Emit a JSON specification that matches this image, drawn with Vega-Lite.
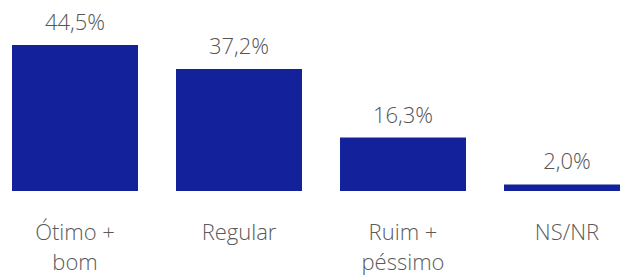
{
  "$schema": "https://vega.github.io/schema/vega-lite/v6.json",
  "width": 620,
  "height": 191,
  "autosize": {"type": "none"},
  "padding": {"left": 0, "top": 0, "right": 0, "bottom": 84},
  "background": "white",
  "config": {
    "view": {"stroke": null},
    "font": "Open Sans",
    "locale": {"number": {"decimal": ",", "thousands": ".", "grouping": [3], "currency": ["R$", ""]}}
  },
  "data": {"values": [
    {"categoria": "Ótimo + bom", "valor": 0.445},
    {"categoria": "Regular", "valor": 0.372},
    {"categoria": "Ruim + péssimo", "valor": 0.163},
    {"categoria": "NS/NR", "valor": 0.020}
  ]},
  "encoding": {
    "x": {
      "field": "categoria", "type": "nominal", "sort": null,
      "scale": {"range": [12, 630], "paddingInner": 0.2317, "paddingOuter": 0},
      "axis": {
        "title": null, "domain": false, "ticks": false, "labelAngle": 0,
        "labelFont": "Open Sans", "labelFontSize": 22, "labelFontWeight": 300, "labelColor": "#5a5a5a",
        "labelPadding": 48, "labelBaseline": "alphabetic", "labelLineHeight": 30,
        "labelExpr": "indexof(datum.value, '+') > 0 ? [slice(datum.value, 0, indexof(datum.value, '+') + 1), slice(datum.value, indexof(datum.value, '+') + 2)] : datum.value"
      }
    },
    "y": {"field": "valor", "type": "quantitative", "scale": {"domain": [0, 0.582]}, "axis": null}
  },
  "layer": [
    {"mark": {"type": "bar", "color": "#13229A"}},
    {"mark": {"type": "text", "dy": -15, "baseline": "alphabetic", "font": "Open Sans", "fontSize": 22, "fontWeight": 300, "color": "#555555"},
     "encoding": {"text": {"field": "valor", "type": "quantitative", "format": ".1%"}}}
  ]
}
